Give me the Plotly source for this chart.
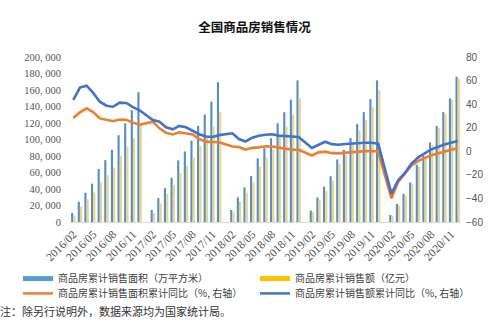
import plotly.graph_objects as go

# ---------------- data ----------------
months_2016 = [f"2016/{m:02d}" for m in range(2, 13)]
months_rest = [f"{y}/{m:02d}" for y in range(2017, 2021) for m in range(1, 13)]
categories = months_2016 + months_rest

area = [
    11000, 24500, 35500, 46500, 64300, 75000, 87500, 105200, 119700, 135500, 157300,
    None, 14500, 29000, 41000, 53500, 74700, 85500, 98600, 116500, 130300, 146000, 169400,
    None, 14500, 29800, 42000, 55800, 77100, 89500, 101500, 119600, 133000, 148300, 171700,
    None, 13800, 29800, 42800, 55500, 75800, 87500, 101800, 119000, 133200, 148900, 171600,
    None, 8500, 22000, 34000, 48000, 69400, 80300, 96500, 116500, 133200, 150000, 176100,
]
sales = [
    7700, 18600, 27500, 36000, 48000, 57000, 66000, 80000, 91300, 101500, 117600,
    None, 10800, 22600, 34000, 44800, 59300, 68000, 78000, 92000, 105000, 115800, 133700,
    None, 11700, 24600, 35500, 47700, 67000, 78000, 88000, 105000, 115500, 129700, 150000,
    None, 11800, 27000, 38000, 50000, 70700, 81500, 94500, 111000, 124000, 139000, 159700,
    None, 7000, 20000, 32000, 46000, 66900, 76500, 93000, 114000, 130500, 148000, 173600,
]
area_yoy = [
    28.2, 33.1, 36.5, 33.2, 27.9, 26.4, 25.5, 26.9, 26.8, 24.3, 22.5,
    None, 25.1, 19.5, 15.7, 14.3, 16.1, 15.0, 14.2, 10.3, 8.2, 7.9, 7.7,
    None, 4.1, 3.6, 1.3, 2.9, 3.3, 4.2, 4.0, 2.9, 2.2, 1.4, 1.3,
    None, -3.6, -0.9, -0.3, -1.6, -1.8, -1.3, -0.6, -0.1, 0.1, 0.2, -0.1,
    None, -39.9, -26.3, -19.3, -12.3, -8.4, -5.8, -3.3, -1.8, 0.0, 1.3, 2.6,
]
sales_yoy = [
    43.6, 54.1, 55.7, 49.5, 42.1, 38.7, 37.8, 41.3, 41.0, 37.5, 34.8,
    None, 26.5, 25.1, 20.4, 18.6, 21.5, 20.4, 17.2, 14.5, 12.6, 12.2, 13.7,
    None, 15.3, 10.4, 8.3, 11.5, 13.2, 14.1, 14.5, 13.3, 13.0, 12.1, 12.2,
    None, 2.8, 5.6, 8.1, 6.1, 5.6, 6.2, 6.7, 7.1, 7.3, 7.3, 6.5,
    None, -35.9, -24.7, -18.6, -10.6, -5.4, -2.1, 1.6, 3.7, 5.8, 7.2, 8.7,
]
left_ticks = list(range(0, 200001, 20000))
left_ticktext = [f"{v:,}".replace(",", ", ") for v in left_ticks]
right_ticks = list(range(-60, 81, 20))
x_ticks = categories[::3]

names = [
    "商品房累计销售面积（万平方米）",
    "商品房累计销售额（亿元）",
    "商品房累计销售面积累计同比（%, 右轴）",
    "商品房累计销售额累计同比（%, 右轴）",
]

C_AREA = "#5B9BD5"
C_SALES = "#FFC000"
C_AREA_BAR = "#5A8EC0"
C_SALES_BAR = "#EAD58A"
C_AREA_YOY = "#ED7D31"
C_SALES_YOY = "#4472C4"

CJK = "Noto Sans CJK SC"

fig = go.Figure()
fig.add_trace(go.Bar(x=categories, y=area, marker=dict(color=C_AREA_BAR, line_width=0),
                     showlegend=False, name=names[0]))
fig.add_trace(go.Bar(x=categories, y=sales, marker=dict(color=C_SALES_BAR, line_width=0),
                     showlegend=False, name=names[1]))
fig.add_trace(go.Scatter(x=categories, y=area_yoy, yaxis="y2", mode="lines", connectgaps=True,
                         line=dict(color=C_AREA_YOY, width=2.6), showlegend=False, name=names[2]))
fig.add_trace(go.Scatter(x=categories, y=sales_yoy, yaxis="y2", mode="lines", connectgaps=True,
                         line=dict(color=C_SALES_YOY, width=2.6), showlegend=False, name=names[3]))

# legend entries: row 1 in "legend", row 2 in "legend2"; first column gets a fixed width
for nm, col, w, lg, lw in [(names[0], C_AREA, 5, "legend", 192), (names[1], C_SALES, 5, "legend", None),
                           (names[2], C_AREA_YOY, 2.5, "legend2", 192), (names[3], C_SALES_YOY, 2.5, "legend2", None)]:
    kw = dict(legendwidth=lw) if lw else {}
    fig.add_trace(go.Scatter(x=[None], y=[None], mode="lines", name=nm, legend=lg,
                             line=dict(color=col, width=w), showlegend=True, **kw))

legend_common = dict(orientation="h", xanchor="left", yanchor="top", itemwidth=30,
                     font=dict(family=CJK, size=10, color="#404040"),
                     bgcolor="rgba(0,0,0,0)", tracegroupgap=0, traceorder="normal")

fig.update_layout(
    width=500, height=335,
    margin=dict(l=70, r=39, t=57, b=113),
    paper_bgcolor="white", plot_bgcolor="white",
    barmode="group", bargap=0.32, bargroupgap=0.05,
    title=dict(text="<b>全国商品房销售情况</b>", x=0.472, xref="paper", xanchor="center",
               y=0.918, yref="container", yanchor="middle",
               font=dict(family=CJK, size=12.5, color="#111111")),
    xaxis=dict(type="category", categoryorder="array", categoryarray=categories,
               tickmode="array", tickvals=x_ticks, ticktext=x_ticks, tickangle=-45,
               tickfont=dict(family="Liberation Serif", size=11.5, color="#4d4d4d"),
               showgrid=False, showline=True, linecolor="#D9D9D9", linewidth=1,
               ticks="", zeroline=False, range=[-0.5, len(categories) - 0.5]),
    yaxis=dict(range=[0, 200000], tickmode="array", tickvals=left_ticks, ticktext=left_ticktext,
               tickfont=dict(family="Liberation Serif", size=10.5, color="#555555"),
               showgrid=False, zeroline=False, showline=False, ticks="",
               ticklabelstandoff=8),
    yaxis2=dict(range=[-60, 80], overlaying="y", side="right", tickmode="array",
                tickvals=right_ticks,
                tickfont=dict(family="Liberation Sans", size=10, color="#555555"),
                showgrid=False, zeroline=False, showline=False, ticks="",
                ticklabelstandoff=4),
    legend=dict(x=-0.133, y=-0.255, **legend_common),
    legend2=dict(x=-0.133, y=-0.345, **legend_common),
    annotations=[dict(text="注：除另行说明外，数据来源均为国家统计局。", xref="paper", yref="paper",
                      x=-0.184, y=-0.539, xanchor="left", yanchor="middle", showarrow=False,
                      font=dict(family=CJK, size=11, color="#333333"))],
)

fig.write_html("out.html")
